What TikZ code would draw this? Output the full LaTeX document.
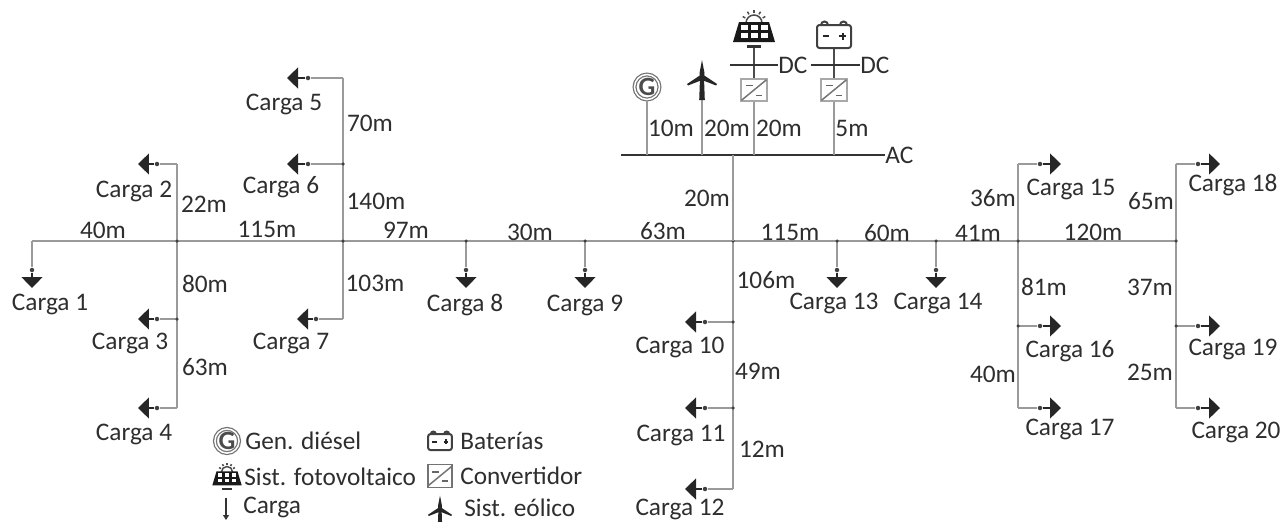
\documentclass[tikz,border=0pt]{standalone}
\usepackage{fontspec}
\setmainfont{Carlito}
\usetikzlibrary{arrows.meta}
\definecolor{TextGray}{HTML}{2E2E2E}
\definecolor{LineGray}{HTML}{9A9A9A}
\definecolor{BoxGray}{HTML}{A8A8A8}

\begin{document}
\begin{tikzpicture}[
  x=0.02cm, y=-0.02cm,
  label/.style={font=\fontsize{14.4}{16}\selectfont, text=TextGray, inner sep=0pt},
  legend/.style={label, anchor=west},
  feeder/.style={draw=LineGray, line width=0.045cm},
  bus/.style={draw=black!80, line width=0.055cm},
  link/.style={draw=black!70, line width=0.03cm},
  dot/.style={circle, fill=black!75, inner sep=0pt, minimum size=0.09cm},
  joint/.style={dot, minimum size=0.07cm},
  loadarrow/.style={draw=black!85, line width=0.025cm, -{Triangle[length=0.22cm,width=0.42cm]}},
  conv/.style={draw=BoxGray, line width=0.05cm, fill=white, minimum width=0.52cm, minimum height=0.44cm, inner sep=0pt},
  gen/.style={draw=black!55, double=white, double distance=0.03cm, line width=0.025cm, circle, fill=white,
    font=\fontsize{15}{15}\selectfont\bfseries, text=black!70, inner sep=0pt},
]
\useasboundingbox (0,0) rectangle (1281,521);

% ---------- Icon macros ----------
\newcommand{\windicon}[2]{%
  \begin{scope}[shift={(#1)}, scale=#2]
    \fill[black!85] (0,-18) -- (2.5,-5) -- (2,0) -- (2.8,22) -- (-2.8,22) -- (-2,0) -- (-2.5,-5) -- cycle;
    \fill[black!85] (0,-4) -- (-15,6) -- (-14,7.5) -- (0,2) -- (14,7.5) -- (15,6) -- cycle;
  \end{scope}
}
\newcommand{\panelicon}[2]{%
  \begin{scope}[shift={(#1)}, scale=#2]
    \draw[black!70, line width=0.03cm] (-8,-7) arc (180:360:8);
    \foreach \a in {-150,-120,-90,-60,-30}
      \draw[black!70, line width=0.03cm] (0,-7) ++(\a:10) -- ++(\a:3);
    \fill[black!90] (-15,-8) -- (15,-8) -- (21,12) -- (-21,12) -- cycle;
    \foreach \u in {-10,0,10}
      \foreach \v in {-3,5}
        \fill[white] (\u-3.5,\v-2.5) rectangle (\u+3.5,\v+2.5);
    \fill[black!80] (-7,15) rectangle (7,18);
  \end{scope}
}
\newcommand{\batticon}[2]{%
  \begin{scope}[shift={(#1)}, scale=#2]
    \draw[black!75, line width=0.04cm] (-13,-10) arc (180:360:3.5) (6,-10) arc (180:360:3.5);
    \draw[black!75, line width=0.04cm, rounded corners=0.05cm, fill=white] (-17,-10) rectangle (17,13);
    \draw[black!85, line width=0.04cm] (-11,1) -- (-5,1) (5,1) -- (12,1) (8.5,-2.5) -- (8.5,4.5);
  \end{scope}
}
\newcommand{\convmark}[2]{%
  \begin{scope}[shift={(#1)}, scale=#2]
    \draw[BoxGray!70!black, line width=0.03cm] (-14,11.5) -- (14,-11.5);
    \draw[black!60, line width=0.035cm] (-9,-5) -- (-1,-5) (2,6) -- (9,6);
  \end{scope}
}

% ---------- Junctions ----------
\foreach \n/\x in {ja/177,jb/343,jc/466,jd/585,je/733,jf/837,jg/936,jh/1018,ji/1176}
  \coordinate (\n) at (\x,241);
\coordinate (start) at (32,241);

% ---------- Loads (number / dot / arrow end) ----------
\foreach \n/\x/\y/\tx/\ty in {
  1/32/270/32/288, 2/157/164/138/164, 3/157/319/138/319, 4/157/408/138/408,
  5/308/78/287/78, 6/308/164/287/164, 7/316/319/297/319,
  8/466/270/466/288, 9/585/270/585/288,
  10/705/322/685/322, 11/705/408/685/408, 12/705/489/685/489,
  13/837/270/837/288, 14/936/270/936/288,
  15/1040/164/1061/164, 16/1040/326/1061/326, 17/1040/408/1061/408,
  18/1198/164/1220/164, 19/1198/326/1220/326, 20/1198/408/1220/408}
{
  \node[dot] (d\n) at (\x,\y) {};
  \coordinate (t\n) at (\tx,\ty);
  \draw[loadarrow] (d\n) -- (t\n);
}

% ---------- Feeder ----------
\draw[feeder] (start) -- (ji);
\draw[feeder] (start) -- (d1);
\draw[feeder] (d2 -| ja) -- (d4 -| ja);
\draw[feeder] (d5 -| jb) -- (d7 -| jb);
\draw[feeder] (jc) -- (d8);
\draw[feeder] (jd) -- (d9);
\draw[feeder] (je) -- (d12 -| je);
\draw[feeder] (jf) -- (d13);
\draw[feeder] (jg) -- (d14);
\draw[feeder] (d15 -| jh) -- (d17 -| jh);
\draw[feeder] (d18 -| ji) -- (d20 -| ji);
\foreach \n/\j in {2/ja,3/ja,4/ja,5/jb,6/jb,7/jb,10/je,11/je,12/je,15/jh,16/jh,17/jh,18/ji,19/ji,20/ji}
  \draw[feeder] (\j |- d\n) -- (d\n);

% Joints on the feeder
\foreach \j in {ja,jb,jc,jd,je,jf,jg,jh,ji}
  \node[joint] (p\j) at (\j) {};
\foreach \n/\j in {3/ja,6/jb,10/je,11/je,16/jh,19/ji}
  \node[joint] (q\n) at (\j |- d\n) {};

% ---------- Generation side ----------
\coordinate (acw) at (621,155);
\node[label, anchor=west] (ac) at (885,155) {AC};
\draw[bus] (acw) -- (ac.west);
\draw[feeder] (je) -- (je |- acw);

\node[gen, minimum size=0.5cm] (gd) at (647,87) {G};
\coordinate (wt) at (702,100);
\node[conv] (cva) at (754,90) {};
\node[conv] (cvb) at (834,90) {};
\convmark{754,90}{0.9}
\convmark{834,90}{0.9}
\draw[feeder] (gd) -- (gd |- acw);
\draw[feeder] (wt) -- (wt |- acw);
\draw[feeder] (cva) -- (cva |- acw);
\draw[feeder] (cvb) -- (cvb |- acw);
\windicon{702,78}{1}

\node[label, anchor=west] (dca) at (778,65) {DC};
\node[label, anchor=west] (dcb) at (860,65) {DC};
\coordinate (dcaw) at (730,65);
\coordinate (dcbw) at (811,65);
\coordinate (pv) at (754,46);
\coordinate (bt) at (834,48);
\draw[link] (pv) -- (cva);
\draw[link] (bt) -- (cvb);
\draw[bus] (dcaw) -- (dca.west);
\draw[bus] (dcbw) -- (dcb.west);
\panelicon{754,30}{1}
\batticon{834,35}{1}

% ---------- Lengths ----------
\foreach \t/\x/\y in {40m/103/230, 22m/204/204, 115m/267/229, 97m/406/230, 30m/530/232,
  63m/663/231, 115m/790/232, 60m/887/233, 41m/978/233, 120m/1093/232,
  80m/205/284, 63m/205/367, 103m/375/283, 70m/370/123, 140m/376/201,
  20m/707/198, 106m/766/280, 49m/758/371, 12m/762/449,
  36m/993/198, 81m/1044/287, 40m/993/374, 65m/1151/201, 37m/1150/287, 25m/1150/372,
  10m/671/128, 20m/727/128, 20m/779/128, 5m/852/128}
  \node[label] at (\x,\y) {\t};

% ---------- Load labels ----------
\foreach \n/\x/\y in {1/50/303, 2/134/190, 3/130/342, 4/134/433, 5/284/103, 6/281/186, 7/291/342,
  8/465/304, 9/585/304, 10/680/346, 11/681/434, 12/680/508, 13/834/302, 14/938/302,
  15/1071/188, 16/1070/350, 17/1070/428, 18/1233/184, 19/1233/348, 20/1236/431}
  \node[label, yshift=-0.02cm] (lb\n) at (\x,\y) {Carga \n};

% ---------- Legend ----------
\node[gen, minimum size=0.46cm] (lggen) at (227,441) {G};
\node[legend] (lgt1) at (245,441) {Gen. diésel};
\batticon{440,441}{0.7}
\node[legend] (lgt2) at (460,441) {Baterías};
\panelicon{227,477}{0.7}
\node[legend] (lgt3) at (244,477) {Sist. fotovoltaico};
\node[conv, minimum width=0.48cm, minimum height=0.46cm, draw=black!55, line width=0.03cm] (lgconv) at (440,476) {};
\convmark{440,476}{0.85}
\node[legend] (lgt4) at (460,476) {Convertidor};
\coordinate (lga) at (226,498);
\coordinate (lgb) at (226,520);
\draw[black!80, line width=0.025cm, -{Triangle[length=0.1cm,width=0.12cm]}] (lga) -- (lgb);
\node[legend, yshift=-0.02cm] (lgt5) at (243,506) {Carga};
\windicon{440,510}{0.8}
\node[legend] (lgt6) at (464,508) {Sist. eólico};
\end{tikzpicture}
\end{document}
